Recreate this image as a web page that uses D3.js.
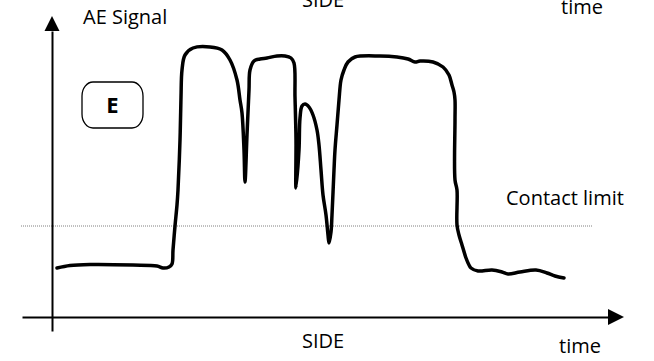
<!DOCTYPE html>
<html>
<head>
<meta charset="utf-8">
<script src="https://cdn.jsdelivr.net/npm/d3@7"></script>
<style>
  body { margin: 0; background: #fff; }
  text { font-family: "Open Sans", sans-serif; fill: #000; }
</style>
</head>
<body>
<div id="ae-chart"></div>
<script>
// AE signal trace (arbitrary units)
const timeVals = [5, 18, 38, 81, 105, 111, 117, 120, 121, 123, 125, 126, 128, 129, 130, 133, 141, 158, 170, 178,
  185, 188, 190, 192, 193, 195, 197, 198, 202, 208, 215, 225, 233, 239, 242, 243, 244, 244, 247, 248,
  250, 253, 257, 261, 265, 267, 269, 271, 274, 276, 277, 279, 280, 282, 283, 285, 287, 289, 292, 296,
  303, 328, 345, 356, 363, 368, 381, 391, 397, 400, 402, 403, 403, 403, 405, 405, 407, 410, 414, 417,
  419, 426, 440, 450, 456, 468, 484, 495, 503, 512];
const signalVals = [49, 51.5, 52.5, 52, 51, 49, 50, 53, 67, 91, 112, 127, 177, 220, 247, 262, 269, 270, 267, 257,
  237, 217, 204, 167, 135, 182, 227, 247, 256, 258, 259, 261, 261, 259, 254, 220, 177, 129, 167, 199,
  211, 213, 210, 202, 187, 172, 147, 122, 102, 82, 74, 85, 102, 147, 167, 192, 217, 237, 247, 255,
  260, 261, 260, 258, 255, 256, 255, 250, 242, 232, 225, 217, 197, 137, 127, 92, 82, 72, 59, 52,
  49, 46, 47, 45, 43, 45, 47, 44, 41, 39];
const contactLimit = 91;
const limitSpan = [-31, 541];
const panelLabel = "E";

const width = 654, height = 361;

const svg = d3.select("#ae-chart")
    .append("svg")
    .attr("width", width)
    .attr("height", height);

// scales (axes run a little past the origin)
const x = d3.scaleLinear().domain([-30, 556]).range([22, 608]);
const y = d3.scaleLinear().domain([-14, 286]).range([331, 31]);

// contact limit
svg.append("line")
    .attr("x1", x(limitSpan[0]))
    .attr("x2", x(limitSpan[1]))
    .attr("y1", y(contactLimit))
    .attr("y2", y(contactLimit))
    .attr("stroke", "#808080")
    .attr("stroke-width", 1)
    .attr("stroke-dasharray", "1,1");

// axes
const xAxis = svg.append("g")
    .attr("transform", `translate(0, ${y(0)})`)
    .call(d3.axisBottom(x).tickValues([]).tickSizeOuter(0));
const yAxis = svg.append("g")
    .attr("transform", `translate(${x(0)}, 0)`)
    .call(d3.axisLeft(y).tickValues([]).tickSizeOuter(0));
svg.selectAll(".domain").attr("stroke", "#000").attr("stroke-width", 2);

// arrow heads
const xEnd = x.range()[1], yTop = y.range()[1];
svg.append("path")
    .attr("d", `M${xEnd},${y(0) - 8}L${xEnd + 16},${y(0)}L${xEnd},${y(0) + 8}Z`)
    .attr("fill", "#000");
svg.append("path")
    .attr("d", `M${x(0) - 7.5},${yTop}L${x(0)},${yTop - 15}L${x(0) + 7.5},${yTop}Z`)
    .attr("fill", "#000");

// signal line
const data = timeVals.map((t, i) => ({ t: t, s: signalVals[i] }));
const line = d3.line()
    .x(d => x(d.t))
    .y(d => y(d.s))
    .curve(d3.curveCatmullRom.alpha(0.5));

svg.append("path")
    .datum(data)
    .attr("fill", "none")
    .attr("stroke", "#000")
    .attr("stroke-width", 3.5)
    .attr("stroke-linejoin", "round")
    .attr("stroke-linecap", "round")
    .attr("d", line);

// labels
svg.append("text").attr("x", 83).attr("y", 24).attr("font-size", 20).text("AE Signal");
svg.append("text").attr("x", 302).attr("y", 7).attr("font-size", 20).text("SIDE");
svg.append("text").attr("x", 561).attr("y", 14).attr("font-size", 20).text("time");
svg.append("text").attr("x", 506).attr("y", 205).attr("font-size", 20).text("Contact limit");
svg.append("text").attr("x", 302).attr("y", 348).attr("font-size", 20).text("SIDE");
svg.append("text").attr("x", 559).attr("y", 353).attr("font-size", 20).text("time");

// panel badge
svg.append("rect")
    .attr("x", 82).attr("y", 82)
    .attr("width", 61).attr("height", 46)
    .attr("rx", 11).attr("ry", 14)
    .attr("fill", "none")
    .attr("stroke", "#000")
    .attr("stroke-width", 1.3);
svg.append("text")
    .attr("x", 112.5).attr("y", 113)
    .attr("text-anchor", "middle")
    .attr("font-size", 22)
    .attr("font-weight", "bold")
    .text(panelLabel);
</script>
</body>
</html>
